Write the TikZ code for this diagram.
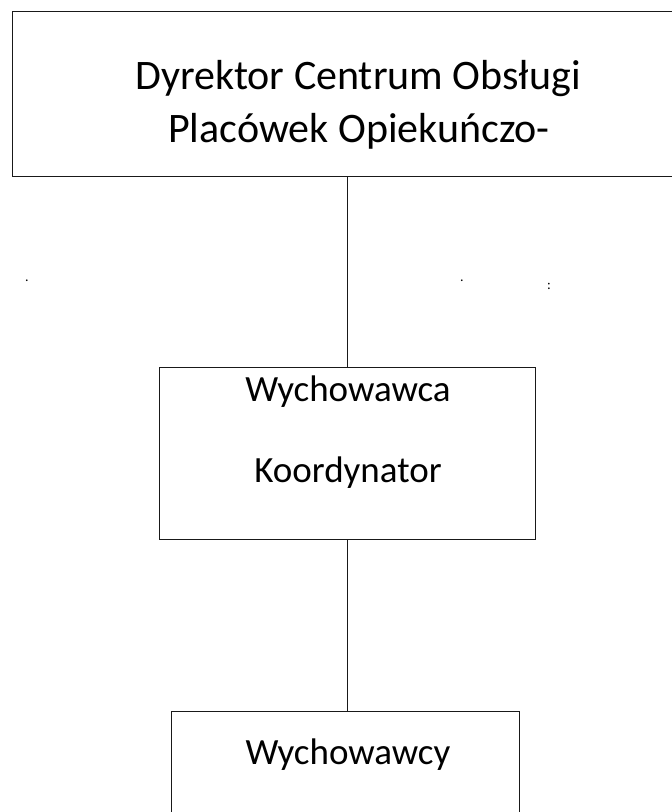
\documentclass[tikz,border=0pt]{standalone}
\usepackage{fontspec}
\setmainfont{Carlito}
\usepackage{tikz}
\usetikzlibrary{positioning}
\tikzset{box/.style={draw=black!90, line width=1.2pt, rectangle, inner sep=0pt, anchor=north west},
  big/.style={font=\fontsize{42}{50}\selectfont, anchor=base, inner sep=0pt},
  mid/.style={font=\fontsize{37}{44}\selectfont, anchor=base, inner sep=0pt},
  dot/.style={font=\fontsize{14}{16}\selectfont, inner sep=0pt}}

\begin{document}
\begin{tikzpicture}[x=1pt, y=-1pt]
      \useasboundingbox (0,0) rectangle (672,812);
      \clip (0,0) rectangle (672,812);
      \fill[white] (0,0) rectangle (672,812);
      % boxes
      \node[box, minimum width=690pt, minimum height=165pt] (dyr) at (12,11) {};
      \node[box, minimum width=376pt, minimum height=172pt] (koord) at (159,367) {};
      \node[box, minimum width=348pt, minimum height=140pt] (wych) at (171,711) {};
      % texts
      \node[big] (dyr1) at (358,89) {Dyrektor Centrum Obsługi};
      \node[big] (dyr2) at (359,142) {Placówek Opiekuńczo-};
      \node[mid] (koord1) at (348,401) {Wychowawca};
      \node[mid] (koord2) at (348,482) {Koordynator};
      \node[mid] (wych1) at (348,764) {Wychowawcy};
      % stray dots
      \node[dot] (d1) at (27,281) {.};
      \node[dot] (d2) at (462,281) {.};
      \node[dot] (d3) at (549,286) {:};
      % connectors
      \draw[black!90, line width=1.2pt] (dyr.south -| koord.north) -- (koord.north);
      \draw[black!90, line width=1.2pt] (koord.south) -- (koord.south |- wych.north);
\end{tikzpicture}
\end{document}
